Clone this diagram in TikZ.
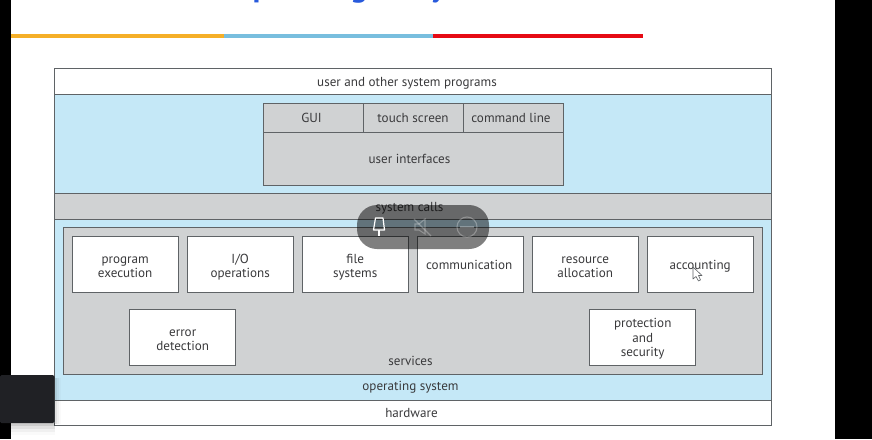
\documentclass[tikz,border=0pt]{standalone}
\usepackage{fontspec}
\setmainfont{PT Sans}
\definecolor{edge}{HTML}{5F6366}
\definecolor{panel}{HTML}{D0D2D3}
\definecolor{sky}{HTML}{C5E8F7}
\definecolor{ink}{HTML}{3A3A3C}
\tikzset{
  block/.style={draw=edge,line width=0.9pt,anchor=north west,inner sep=0pt,outer sep=0pt,text=ink,font=\fontsize{13.1pt}{14.6pt}\selectfont,align=center},
  oneline/.style={text height=12pt,text depth=2.6pt},
  whitebox/.style={block,fill=white},
  greybox/.style={block,fill=panel},
  bluebox/.style={block,fill=sky},
  service/.style={whitebox,minimum width=106.4pt,minimum height=56pt},
  caption/.style={text=ink,font=\fontsize{13.1pt}{14.6pt}\selectfont,inner sep=0pt,text height=11pt,text depth=2.6pt},
  wording/.style={text=ink,font=\fontsize{13.1pt}{14.6pt}\selectfont,inner sep=0pt,align=center,anchor=center},
  rulebar/.style={line width=3.6pt},
}
\begin{document}
\begin{tikzpicture}[x=1pt,y=-1pt]
\useasboundingbox (0,0) rectangle (872,439);
\fill[white] (0,0) rectangle (872,439);
% side bars
\fill[black] (0,0) rectangle (10.5,439);
\fill[black] (835,0) rectangle (872,439);
% title remnants
\begin{scope}
\clip (200,0) rectangle (520,3.2);
\node[anchor=base west,text={rgb,255:red,40;green,90;blue,220},font=\fontsize{32pt}{36pt}\selectfont\bfseries,inner sep=0pt] (title) at (231,-3.6) {Operating\hspace{46pt}System};
\end{scope}
% colour rule
\coordinate (r0) at (11,36); \coordinate (r1) at (224,36); \coordinate (r2) at (433,36); \coordinate (r3) at (643,36);
\draw[rulebar,draw={rgb,255:red,245;green,175;blue,40}] (r0) -- (r1);
\draw[rulebar,draw={rgb,255:red,120;green,190;blue,222}] (r1) -- (r2);
\draw[rulebar,draw={rgb,255:red,230;green,10;blue,20}] (r2) -- (r3);
% layers
\node[whitebox,oneline,minimum width=717pt,minimum height=26pt] (programs) at (54.5,68.5) {user and other system programs\hspace{12pt}};
\node[bluebox,minimum width=717pt,minimum height=99pt] (uiband) at (54.5,94.5) {};
\node[greybox,oneline,minimum width=717pt,minimum height=26pt] (calls) at (54.5,193.5) {system calls\hspace{7pt}};
\node[bluebox,minimum width=717pt,minimum height=181pt] (osband) at (54.5,219.5) {};
\node[whitebox,oneline,minimum width=717pt,minimum height=25pt] (hardware) at (54.5,400.5) {hardware\hspace{3pt}};
% UI
\node[greybox,oneline,minimum width=300pt,minimum height=53pt] (ui) at (263,132) {user interfaces\hspace{7pt}};
\node[greybox,oneline,minimum width=100pt,minimum height=29pt] (gui) at (263,103) {GUI\hspace{3pt}};
\node[greybox,oneline,minimum width=100pt,minimum height=29pt] (touch) at (363,103) {touch screen};
\node[greybox,oneline,minimum width=100pt,minimum height=29pt] (cmd) at (463,103) {command line\hspace{4pt}};
% services panel
\node[greybox,minimum width=699pt,minimum height=147pt] (services) at (63.5,227.5) {};
\node[caption,anchor=center] (serviceslabel) at (410.5,361) {services};
\node[caption,anchor=center] (oslabel) at (410.5,386.5) {operating system};
\node[service] (s1) at (72,236.5) {};
\node[service] (s2) at (187,236.5) {};
\node[service] (s3) at (302,236.5) {};
\node[service,oneline] (s4) at (417,236.5) {communication\hspace{2pt}};
\node[service] (s5) at (532,236.5) {};
\node[service,oneline] (s6) at (647,236.5) {accounting};
\node[service] (s7) at (129.5,309.5) {};
\node[service] (s8) at (589.5,309.5) {};
\node[wording] (t1) at ([yshift=-2.6pt]s1.center) {program\\execution};
\node[wording] (t2) at ([yshift=-2.6pt]s2.center) {I/O\\operations};
\node[wording] (t3) at ([yshift=-2.6pt]s3.center) {file\\systems};
\node[wording] (t5) at ([yshift=-2.6pt]s5.center) {resource\\allocation};
\node[wording] (t7) at ([yshift=-2.6pt]s7.center) {error\\detection};
\node[wording] (t8) at ([yshift=-1.4pt]s8.center) {protection\\and\\security};
% bottom-left overlay
\foreach \d/\o in {3/.09,6/.06,9/.04,12/.02}{
  \fill[black,opacity=\o] (11,423) rectangle (54.5,423+\d);
}
\foreach \d/\o in {2/.06,4/.04,6/.02}{
  \fill[black,opacity=\o] (54.5,378) rectangle (54.5+\d,424);
}
\fill[fill={rgb,255:red,32;green,33;blue,37}] (0,375) [rounded corners=1.5pt] -- (54.5,375) -- (54.5,423) -- (0,423) -- cycle;
% player pill
\fill[black,opacity=.5,rounded corners=20pt] (357,205) rectangle (489,249);
\draw[white,line width=1.2pt,line join=round] (375.5,218) -- (383,218) -- (384.5,230) -- (373.5,230) -- cycle;
\draw[white,line width=1.2pt] (379,230) -- (379,236);
\begin{scope}[draw=white,opacity=.28,line width=1.1pt]
\draw (467,227) circle (10);
\draw (460,227) -- (474,227);
\draw (414,219) -- (431,236);
\draw (415,224) -- (419,224) -- (425,219) -- (425,234) -- (419,230) -- (415,230) -- cycle;
\end{scope}
% cursor
\draw[edge,fill=white,line width=0.6pt,line join=round] (693,267) -- (693,279) -- (696,276.5) -- (698.5,281) -- (700.5,280) -- (698.5,275.5) -- (702,275.5) -- cycle;
\end{tikzpicture}
\end{document}
